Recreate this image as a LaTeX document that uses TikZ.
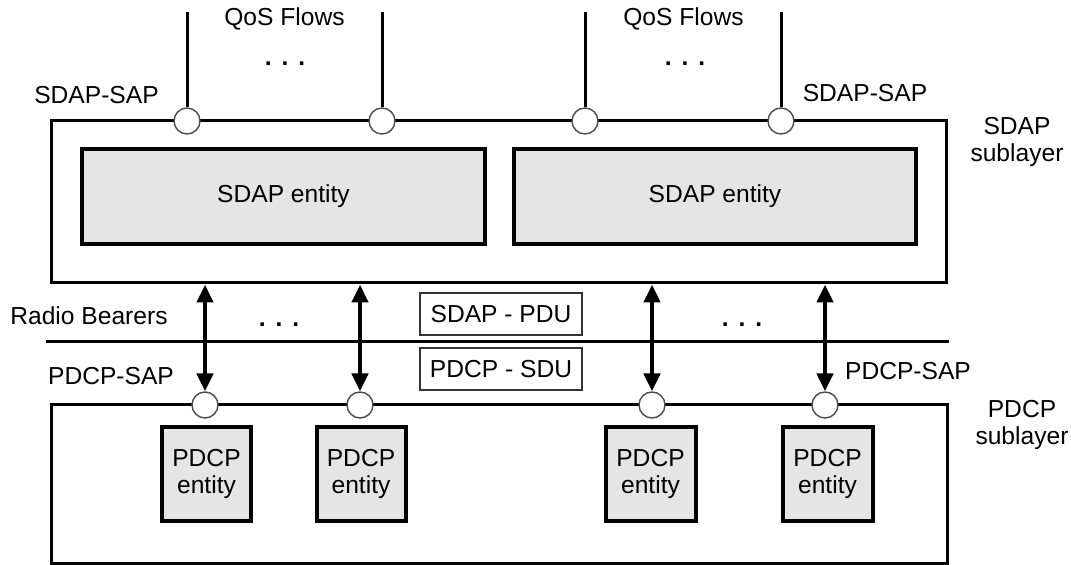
\documentclass[tikz,border=0pt]{standalone}
\usepackage{fontspec}
\setmainfont{Liberation Sans}
\usetikzlibrary{arrows.meta}
\begin{document}
\begin{tikzpicture}[x=0.5pt,y=-0.5pt]
	\fontsize{12.3}{13.5}\selectfont
	\tikzset{LayerStyle/.style =
		{draw,
			line width = 1.5pt,
			inner sep = 0pt},
		EntityStyle/.style =
		{draw,
			line width = 2pt,
			fill = black!10,
			inner sep = 0pt,
			align = center},
		SapStyle/.style =
		{draw = black!70,
			shape = circle,
			fill = white,
			line width = 0.7pt,
			minimum size = 13pt,
			inner sep = 0pt},
		PduStyle/.style =
		{draw = black!80,
			line width = 0.7pt,
			minimum width = 81pt,
			minimum height = 21pt,
			inner sep = 0pt},
		LabelStyle/.style = {anchor = base, inner sep = 0pt},
		TwoLineStyle/.style = {inner sep = 0pt, align = center},
		FlowStyle/.style = {line width = 1.5pt},
		BearerStyle/.style = {line width = 2.4pt, >={Triangle[length=9pt,width=8pt]}, <->}}
	\useasboundingbox (0,0) rectangle (1071,565);
	% SDAP sublayer
	\node[LayerStyle, minimum width = 447.5pt, minimum height = 81pt] (sdap) at (498.5,202) {};
	\node[EntityStyle, minimum width = 201.5pt, minimum height = 47.5pt] (se1) at (283.5,196.5) {SDAP entity};
	\node[EntityStyle, minimum width = 201pt, minimum height = 47.5pt] (se2) at (715,196.5) {SDAP entity};
	\coordinate (q1) at (187,12) ; \coordinate (q2) at (382,12);
	\coordinate (q3) at (585,12) ; \coordinate (q4) at (781,12);
	\node[SapStyle] (sap1) at (187,121) {};
	\node[SapStyle] (sap2) at (382,121) {};
	\node[SapStyle] (sap3) at (585,121) {};
	\node[SapStyle] (sap4) at (781,121) {};
	\draw[FlowStyle] (q1) -- (sap1);
	\draw[FlowStyle] (q2) -- (sap2);
	\draw[FlowStyle] (q3) -- (sap3);
	\draw[FlowStyle] (q4) -- (sap4);
	\node[LabelStyle] (qos1) at (284.5,26) {QoS Flows};
	\node[LabelStyle] (qos2) at (683.5,26) {QoS Flows};
	\node[LabelStyle, font = \bfseries] (qdots1) at (285,66) {.\hspace{5pt}.\hspace{5pt}.};
	\node[LabelStyle, font = \bfseries] (qdots2) at (685,66) {.\hspace{5pt}.\hspace{5pt}.};
	\node[LabelStyle] (ssap1) at (96.5,104) {SDAP-SAP};
	\node[LabelStyle] (ssap2) at (865,102) {SDAP-SAP};
	\node[TwoLineStyle] (sdapsub) at (1017,142) {SDAP\\sublayer};
	% radio bearers
	\coordinate (rbL) at (46,342); \coordinate (rbR) at (949,342);
	\draw[FlowStyle] (rbL) -- (rbR);
	\node[LabelStyle] (rb) at (89,325) {Radio Bearers};
	\node[LabelStyle, font = \bfseries] (rdots1) at (279,327) {.\hspace{5pt}.\hspace{5pt}.};
	\node[LabelStyle, font = \bfseries] (rdots2) at (742,327) {.\hspace{5pt}.\hspace{5pt}.};
	\node[PduStyle] (pdu) at (501,314) {SDAP - PDU};
	\node[PduStyle] (sdu) at (501,369) {PDCP - SDU};
	% PDCP sublayer
	\node[LayerStyle, minimum width = 448pt, minimum height = 79.5pt] (pdcp) at (499,484.5) {};
	\node[EntityStyle, minimum width = 44.5pt, minimum height = 47pt] (pe1) at (206.5,474) {PDCP\\entity};
	\node[EntityStyle, minimum width = 44.5pt, minimum height = 47pt] (pe2) at (361,474) {PDCP\\entity};
	\node[EntityStyle, minimum width = 45pt, minimum height = 47pt] (pe3) at (650.5,474) {PDCP\\entity};
	\node[EntityStyle, minimum width = 45pt, minimum height = 47pt] (pe4) at (827.5,474) {PDCP\\entity};
	\node[SapStyle] (pap1) at (205,405) {};
	\node[SapStyle] (pap2) at (360,405) {};
	\node[SapStyle] (pap3) at (652,405) {};
	\node[SapStyle] (pap4) at (825,405) {};
	\draw[BearerStyle] (pap1 |- sdap.south) -- (pap1);
	\draw[BearerStyle] (pap2 |- sdap.south) -- (pap2);
	\draw[BearerStyle] (pap3 |- sdap.south) -- (pap3);
	\draw[BearerStyle] (pap4 |- sdap.south) -- (pap4);
	\node[LabelStyle] (psap1) at (111,385) {PDCP-SAP};
	\node[LabelStyle] (psap2) at (908,380) {PDCP-SAP};
	\node[TwoLineStyle] (pdcpsub) at (1022,425) {PDCP\\sublayer};
\end{tikzpicture}
\end{document}
